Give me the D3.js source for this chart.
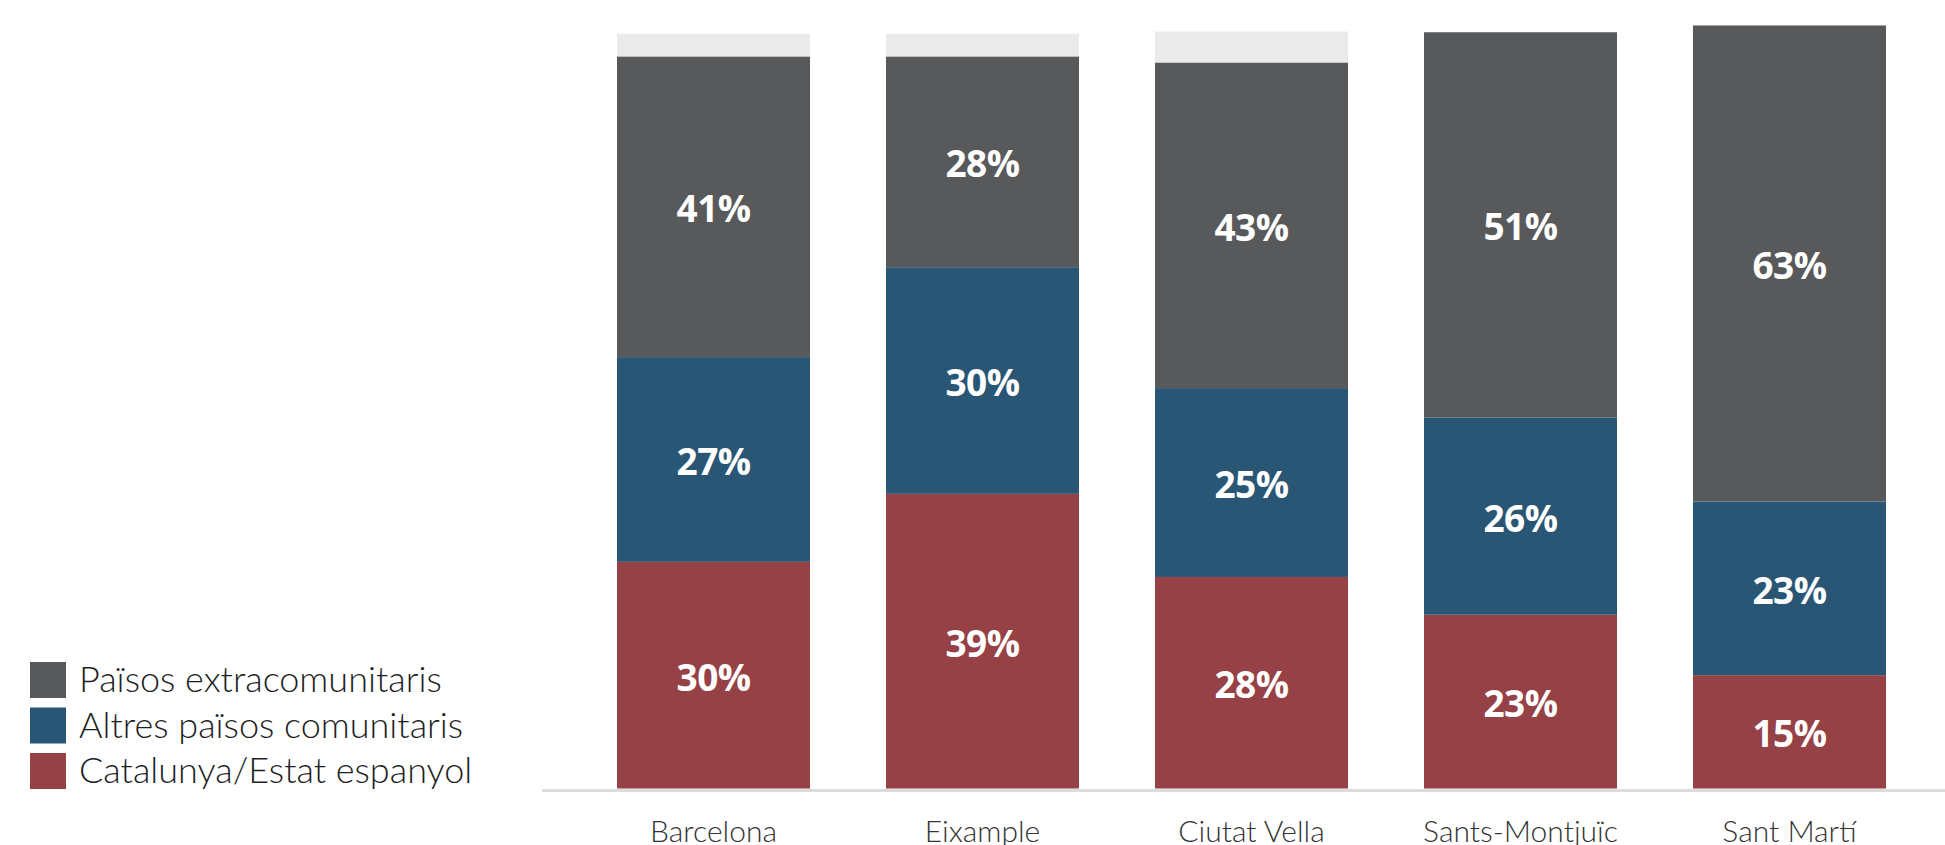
<!DOCTYPE html>
<html>
<head>
<meta charset="utf-8">
<script src="https://cdn.jsdelivr.net/npm/d3@7"></script>
<style>
  html, body { margin: 0; padding: 0; background: #fff; }
  svg { display: block; }
</style>
</head>
<body>
<svg id="chart" width="1945" height="845"></svg>
<script>
// ---- data ----
const categories = ["Barcelona", "Eixample", "Ciutat Vella", "Sants-Montjuïc", "Sant Martí"];
const seriesNames = ["Catalunya/Estat espanyol", "Altres països comunitaris", "Països extracomunitaris"];
const catalunyaEstat = [30, 39, 28, 23, 15];
const altresComunitaris = [27.1, 30, 25, 26.1, 23];
const extracomunitaris = [39.8, 27.9, 43.1, 51, 63];
const noConsta = [3, 3, 4.1, 0, 0];
const catalunyaLabels = ["30%", "39%", "28%", "23%", "15%"];
const altresLabels = ["27%", "30%", "25%", "26%", "23%"];
const extraLabels = ["41%", "28%", "43%", "51%", "63%"];
const yTicks = [0, 100];

// ---- styles ----
const colors = ["#964146", "#2a5675", "#58595b"];
const restColor = "#ebebeb";

const svg = d3.select("#chart");

const x = d3.scaleBand()
  .domain(categories)
  .range([579, 1924])
  .paddingInner(0.2825)
  .paddingOuter(0.1413);

const y = d3.scaleLinear()
  .domain(d3.extent(yTicks))
  .range([788.5, 33]);

const rows = categories.map((c, i) => ({
  cat: c,
  vals: [catalunyaEstat[i], altresComunitaris[i], extracomunitaris[i], noConsta[i]],
  labels: [catalunyaLabels[i], altresLabels[i], extraLabels[i], null]
}));

const keys = [0, 1, 2, 3];
const stack = d3.stack()
  .keys(keys)
  .value((d, k) => d.vals[k]);
const stacked = stack(rows);

const fills = [...colors, restColor];

const layers = svg.append("g").selectAll("g")
  .data(stacked)
  .join("g")
  .attr("fill", (d, i) => fills[i]);

layers.selectAll("rect")
  .data(d => d)
  .join("rect")
  .attr("x", d => x(d.data.cat))
  .attr("width", x.bandwidth())
  .attr("y", d => y(d[1]))
  .attr("height", d => Math.max(0, y(d[0]) - y(d[1])));

// value labels
const labelG = svg.append("g")
  .attr("font-family", "'Open Sans', sans-serif")
  .attr("font-weight", 700)
  .attr("font-size", 37)
  .attr("letter-spacing", -0.6)
  .attr("fill", "#fff")
  .attr("text-anchor", "middle");

stacked.slice(0, 3).forEach((layer, li) => {
  labelG.selectAll(null)
    .data(layer)
    .join("text")
    .attr("x", d => x(d.data.cat) + x.bandwidth() / 2)
    .attr("y", d => (y(d[0]) + y(d[1])) / 2 + 15.5)
    .text(d => d.data.labels[li]);
});

// baseline
svg.append("line")
  .attr("x1", 542).attr("x2", 1945)
  .attr("y1", y(0) + 2).attr("y2", y(0) + 2)
  .attr("stroke", "#dcdcdc")
  .attr("stroke-width", 3);

// x axis labels
const xAxis = d3.axisBottom(x).tickSize(0).tickPadding(0);
const axG = svg.append("g")
  .attr("transform", `translate(0, ${y(0)})`)
  .call(xAxis);
axG.select(".domain").remove();
axG.selectAll("text")
  .attr("font-family", "Lato, sans-serif")
  .attr("font-weight", 300)
  .attr("font-size", 30)
  .attr("fill", "#333")
  .attr("dy", null)
  .attr("y", 53);

// legend
const legendOrder = [2, 1, 0];
const leg = svg.append("g");
legendOrder.forEach((si, i) => {
  const g = leg.append("g").attr("transform", `translate(30, ${662 + i * 45.5})`);
  g.append("rect").attr("width", 36).attr("height", 36).attr("fill", colors[si]);
  g.append("text")
    .attr("x", 49)
    .attr("y", 30)
    .attr("font-family", "Lato, sans-serif")
    .attr("font-weight", 300)
    .attr("font-size", 36)
    .attr("fill", "#1e1e1e")
    .text(seriesNames[si]);
});
</script>
</body>
</html>
